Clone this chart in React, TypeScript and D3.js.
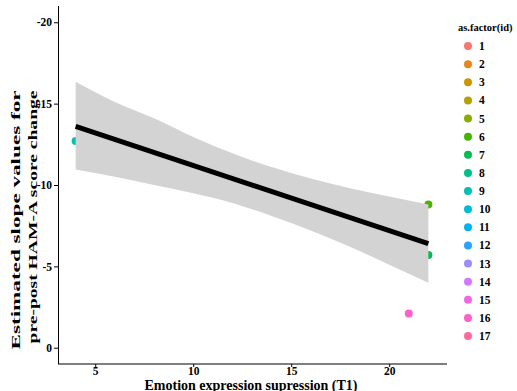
import { useEffect, useRef } from 'react';
import * as d3 from 'd3';

const W = 517;
const H = 391;

// legend levels
const ids = [1, 2, 3, 4, 5, 6, 7, 8, 9, 10, 11, 12, 13, 14, 15, 16, 17];

// visible points
const pointId = [9, 6, 7, 16];
const pointX = [4, 22, 22, 21];
const pointY = [-12.7, -8.8, -5.7, -2.1];

// fitted line
const fitX = [4, 22];
const fitY = [-13.6, -6.4];

// confidence band
const bandX = [4, 6, 8, 10, 12, 14, 16, 18, 20, 22];
const bandLow = [-16.35, -15.1, -14.1, -12.95, -11.95, -11.1, -10.4, -9.8, -9.3, -8.8];
const bandHigh = [-10.95, -10.5, -10.0, -9.5, -8.9, -8.1, -7.2, -6.2, -5.1, -4.0];

const xTicks = [5, 10, 15, 20];
const yTicks = [0, -5, -10, -15, -20];

const FONT = 'Liberation Serif';

// ggplot-style hue palette (polar Luv)
function hueColor(h: number, c = 100, l = 65) {
  const hr = (h * Math.PI) / 180;
  const U = c * Math.cos(hr);
  const V = c * Math.sin(hr);
  const Xn = 95.047, Yn = 100, Zn = 108.883;
  const Y = l > 8 ? Yn * Math.pow((l + 16) / 116, 3) : (Yn * l) / 903.3;
  const d = Xn + 15 * Yn + 3 * Zn;
  const u = U / (13 * l) + (4 * Xn) / d;
  const v = V / (13 * l) + (9 * Yn) / d;
  const X = (9 * Y * u) / (4 * v);
  const Z = (Y * (12 - 3 * u - 20 * v)) / (4 * v);
  const x = X / 100, y = Y / 100, z = Z / 100;
  const lin = [
    3.240479 * x - 1.53715 * y - 0.498535 * z,
    -0.969256 * x + 1.875992 * y + 0.041556 * z,
    0.055648 * x - 0.204043 * y + 1.057311 * z,
  ];
  const [r, g, b] = lin.map((t) => {
    const s = t <= 0.0031308 ? 12.92 * t : 1.055 * Math.pow(t, 1 / 2.4) - 0.055;
    return Math.round(Math.max(0, Math.min(1, s)) * 255);
  });
  return d3.rgb(r, g, b).formatHex();
}

const palette = ids.map((_, i) => hueColor(15 + (i * 360) / ids.length));

const App = () => {
  const svgRef = useRef<SVGSVGElement>(null);

  useEffect(() => {
    const svg = d3.select(svgRef.current);
    svg.selectAll('*').remove();
    svg.style('font-family', FONT).style('font-weight', 'bold');

    const x = d3.scaleLinear().domain([3.1, 22.9]).range([58, 446]);
    const y = d3.scaleLinear().domain([1, -21]).range([364, 6]);
    const color = d3.scaleOrdinal<number, string>().domain(ids).range(palette);

    // points (under the band)
    svg.append('g')
      .selectAll('circle')
      .data(pointId)
      .enter()
      .append('circle')
      .attr('cx', (_, i) => x(pointX[i]))
      .attr('cy', (_, i) => y(pointY[i]))
      .attr('r', 4)
      .attr('fill', (d) => color(d));

    // band
    const band = bandX.map((v, i) => ({ x: v, lo: bandLow[i], hi: bandHigh[i] }));
    svg.append('path')
      .datum(band)
      .attr('fill', '#d3d3d3')
      .attr('d', d3.area<any>()
        .curve(d3.curveMonotoneX)
        .x((d) => x(d.x))
        .y0((d) => y(d.lo))
        .y1((d) => y(d.hi)));

    // fit line
    svg.append('path')
      .datum(fitX.map((v, i) => [v, fitY[i]] as [number, number]))
      .attr('fill', 'none')
      .attr('stroke', 'black')
      .attr('stroke-width', 5)
      .attr('d', d3.line()
        .x((d) => x(d[0]))
        .y((d) => y(d[1])));

    // axes
    const xAxis = svg.append('g')
      .attr('transform', 'translate(0,364)')
      .call(d3.axisBottom(x).tickValues(xTicks).tickSize(3).tickPadding(0).tickFormat(d3.format('d')));
    xAxis.select('.domain').remove();
    svg.append('line')
      .attr('x1', 58).attr('x2', 447).attr('y1', 364).attr('y2', 364)
      .attr('stroke', 'black').attr('stroke-width', 1.1);

    const yAxis = svg.append('g')
      .attr('transform', 'translate(58,0)')
      .call(d3.axisLeft(y).tickValues(yTicks).tickSize(4).tickPadding(2).tickFormat((d) => String(d)));
    yAxis.select('.domain').remove();
    svg.append('line')
      .attr('x1', 58.5).attr('x2', 58.5).attr('y1', 6).attr('y2', 364)
      .attr('stroke', 'black').attr('stroke-width', 1);

    svg.selectAll('g.tick text')
      .attr('font-family', FONT)
      .attr('font-weight', 'bold')
      .attr('font-size', 11.5)
      .attr('fill', 'black');
    svg.selectAll('g.tick line').attr('stroke', 'black');
    xAxis.attr('font-family', FONT);
    yAxis.attr('font-family', FONT);

    // axis titles
    svg.append('text')
      .attr('x', 251)
      .attr('y', 390)
      .attr('text-anchor', 'middle')
      .attr('font-family', FONT)
      .attr('font-weight', 'bold')
      .attr('font-size', 14)
      .text('Emotion expression supression (T1)');

    const yTitle = [
      { text: 'Estimated slope values for', cx: 20, cy: 220, len: 259 },
      { text: 'pre-post HAM-A score change', cx: 37, cy: 217, len: 253 },
    ];
    yTitle.forEach((t) => {
      svg.append('text')
        .attr('transform', `translate(${t.cx},${t.cy}) rotate(-90)`)
        .attr('text-anchor', 'middle')
        .attr('font-family', FONT)
        .attr('font-weight', 'bold')
        .attr('font-size', 13)
        .attr('textLength', t.len)
        .attr('lengthAdjust', 'spacingAndGlyphs')
        .text(t.text);
    });

    // legend
    const legend = svg.append('g');
    legend.append('text')
      .attr('x', 458)
      .attr('y', 31)
      .attr('font-family', FONT)
      .attr('font-weight', 'bold')
      .attr('font-size', 10.5)
      .text('as.factor(id)');

    const rowY = d3.scalePoint<number>().domain(ids).range([46, 336]);
    const rows = legend.selectAll('g.row')
      .data(ids)
      .enter()
      .append('g')
      .attr('class', 'row')
      .attr('transform', (d) => `translate(0,${rowY(d)})`);
    rows.append('circle')
      .attr('cx', 468)
      .attr('cy', 0)
      .attr('r', 4)
      .attr('fill', (d) => color(d));
    rows.append('text')
      .attr('x', 479)
      .attr('y', 4)
      .attr('font-family', FONT)
      .attr('font-weight', 'bold')
      .attr('font-size', 11.5)
      .text((d) => String(d));
  }, []);

  return (
    <svg
      ref={svgRef}
      width={W}
      height={H}
      style={{ position: 'absolute', left: 0, top: 0, background: 'white' }}
    />
  );
};

export default App;
